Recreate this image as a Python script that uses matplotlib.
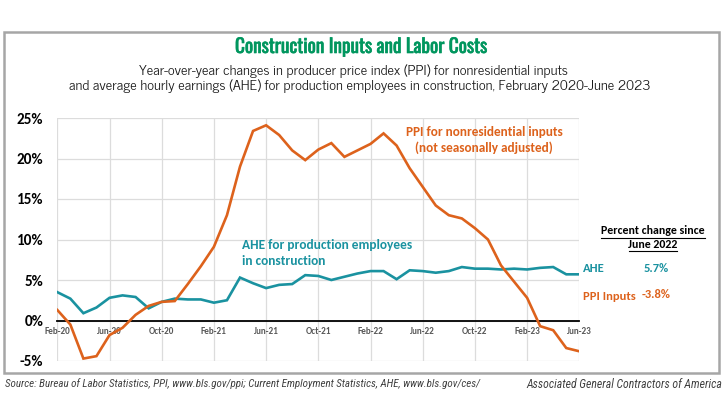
import matplotlib
matplotlib.use("Agg")
import matplotlib.pyplot as plt
from matplotlib import font_manager as fm
from matplotlib import patheffects as pe
from matplotlib.patches import Rectangle
import numpy as np

months = ['Feb-20', 'Mar-20', 'Apr-20', 'May-20', 'Jun-20', 'Jul-20', 'Aug-20', 'Sep-20',
          'Oct-20', 'Nov-20', 'Dec-20', 'Jan-21', 'Feb-21', 'Mar-21', 'Apr-21', 'May-21',
          'Jun-21', 'Jul-21', 'Aug-21', 'Sep-21', 'Oct-21', 'Nov-21', 'Dec-21', 'Jan-22',
          'Feb-22', 'Mar-22', 'Apr-22', 'May-22', 'Jun-22', 'Jul-22', 'Aug-22', 'Sep-22',
          'Oct-22', 'Nov-22', 'Dec-22', 'Jan-23', 'Feb-23', 'Mar-23', 'Apr-23', 'May-23',
          'Jun-23']

ppi = [1.3, -0.5, -4.7, -4.4, -1.8, -0.9, 0.7, 1.8, 2.3, 2.4, 4.5, 6.7, 9.1, 13.0,
       19.0, 23.4, 24.1, 22.9, 21.0, 19.8, 21.1, 21.9, 20.2, 21.0, 21.8, 23.1, 21.6,
       18.8, 16.5, 14.2, 13.0, 12.6, 11.4, 10.0, 6.8, 4.8, 2.8, -0.7, -1.2, -3.4, -3.8]

ahe = [3.5, 2.7, 0.9, 1.6, 2.8, 3.1, 2.9, 1.5, 2.3, 2.7, 2.6, 2.6, 2.2, 2.5, 5.3,
       4.6, 4.0, 4.4, 4.5, 5.6, 5.5, 5.0, 5.4, 5.8, 6.1, 6.1, 5.1, 6.2, 6.1, 5.9,
       6.1, 6.6, 6.4, 6.4, 6.3, 6.4, 6.3, 6.5, 6.6, 5.7, 5.7]

tick_labels = ['Feb-20', 'Jun-20', 'Oct-20', 'Feb-21', 'Jun-21', 'Oct-21', 'Feb-22',
               'Jun-22', 'Oct-22', 'Feb-23', 'Jun-23']
y_ticks = [-5, 0, 5, 10, 15, 20, 25]

ahe_change = "5.7%"
ppi_change = "-3.8%"

ORANGE = '#DD621C'
TEAL = '#1A92A0'
GREEN = '#00965E'

avail = {f.name for f in fm.fontManager.ttflist}


def pick(*names):
    for n in names:
        if n in avail:
            return [n, 'DejaVu Sans']
    return ['DejaVu Sans']


CHART_FONT = pick('Carlito', 'Lato', 'Open Sans')
TITLE_FONT = pick('Oswald', 'Barlow Condensed', 'Roboto Condensed', 'Liberation Sans')
SUB_FONT = pick('News Cycle', 'Roboto Condensed', 'Archivo Narrow', 'Liberation Sans')
FOOT_FONT = pick('Roboto Condensed', 'Archivo Narrow', 'Barlow Condensed', 'Liberation Sans')

W, H = 725, 400
fig = plt.figure(figsize=(W / 100, H / 100), dpi=100)
fig.patch.set_facecolor('white')
renderer = fig.canvas.get_renderer()


def fit(t, target_px):
    bb = t.get_window_extent(renderer)
    if bb.width > 0:
        t.set_fontsize(t.get_fontsize() * target_px / bb.width)
    return t


# outer frame
fig.add_artist(Rectangle((3.5 / W, 1 - 372.5 / H), (719 - 3.5) / W, (372.5 - 31.5) / H,
                         transform=fig.transFigure, fill=False, edgecolor='#a6a6a6', lw=1.8))

left, right, top, bottom = 57.3, 579.3, 118, 361
ax = fig.add_axes([left / W, 1 - bottom / H, (right - left) / W, (bottom - top) / H])

x = np.arange(len(months))
tick_pos = [months.index(t) for t in tick_labels]

ax.plot(x, ahe, color=TEAL, lw=1.9, solid_joinstyle='miter', zorder=3)
ax.plot(x, ppi, color=ORANGE, lw=1.9, solid_joinstyle='miter', zorder=4)

ax.set_xlim(0, len(months) - 1)
ax.set_ylim(-5, 25)
ax.set_xticks(tick_pos)
ax.set_xticklabels(tick_labels)
ax.set_yticks(y_ticks)
ax.set_yticklabels([f"{v}%" for v in y_ticks])
ax.grid(True, color='#dcdcdc', lw=0.9)
ax.set_axisbelow(True)
for s in ['top', 'right', 'left']:
    ax.spines[s].set_visible(False)
ax.spines['bottom'].set_position(('data', 0))
ax.spines['bottom'].set_color('black')
ax.spines['bottom'].set_linewidth(1.3)
ax.spines['bottom'].set_zorder(2)

ax.tick_params(axis='x', length=0, pad=5, labelsize=6.6, labelcolor='#595959')
ax.tick_params(axis='y', length=0, pad=10, labelsize=11, labelcolor='black')
for lab in ax.get_xticklabels():
    lab.set_fontweight('bold')
    lab.set_family(CHART_FONT)
for lab in ax.get_yticklabels():
    lab.set_fontweight('bold')
    lab.set_family(CHART_FONT)

# in-chart annotations
t = fig.text(484 / W, 1 - 132.5 / H, "PPI for nonresidential inputs", ha='center', va='center',
             color=ORANGE, fontsize=10, fontweight='bold', family=CHART_FONT)
fit(t, 158)
fig.text(484 / W, 1 - 147.5 / H, "(not seasonally adjusted)", ha='center', va='center',
         color=ORANGE, fontsize=t.get_fontsize(), fontweight='bold', family=CHART_FONT)

t = fig.text(242 / W, 1 - 245 / H, "AHE for production employees", ha='left', va='center',
             color=TEAL, fontsize=10, fontweight='bold', family=CHART_FONT)
fit(t, 170)
fig.text(242 / W, 1 - 261 / H, "in construction", ha='left', va='center',
         color=TEAL, fontsize=t.get_fontsize(), fontweight='bold', family=CHART_FONT)

# right side annotations
t = fig.text(653 / W, 1 - 231 / H, "Percent change since", ha='center', va='center',
             fontsize=9, fontweight='bold', family=CHART_FONT, color='black')
fit(t, 104)
fs_r = t.get_fontsize()
fig.text(653 / W, 1 - 244 / H, "June 2022", ha='center', va='center',
         fontsize=fs_r, fontweight='bold', family=CHART_FONT, color='black')
fig.add_artist(plt.Line2D([601 / W, 705 / W], [1 - 237.5 / H, 1 - 237.5 / H], color='black', lw=0.8))
fig.add_artist(plt.Line2D([629 / W, 677 / W], [1 - 250.5 / H, 1 - 250.5 / H], color='black', lw=0.8))

fig.text(583 / W, 1 - 269 / H, "AHE", ha='left', va='center', color=TEAL,
         fontsize=fs_r * 1.05, fontweight='bold', family=CHART_FONT)
fig.text(656 / W, 1 - 268 / H, ahe_change, ha='center', va='center', color=TEAL,
         fontsize=fs_r * 1.05, fontweight='bold', family=CHART_FONT)
fig.text(583 / W, 1 - 296 / H, "PPI Inputs", ha='left', va='center', color=ORANGE,
         fontsize=fs_r * 1.05, fontweight='bold', family=CHART_FONT)
fig.text(656 / W, 1 - 295 / H, ppi_change, ha='center', va='center', color=ORANGE,
         fontsize=fs_r * 1.05, fontweight='bold', family=CHART_FONT)

# titles
t = fig.text(361 / W, 1 - 47 / H, "Construction Inputs and Labor Costs", ha='center',
             va='center', color=GREEN, fontsize=17, fontweight='bold', family=TITLE_FONT)
fit(t, 252)
t.set_path_effects([pe.withStroke(linewidth=0.45, foreground=GREEN)])
t = fig.text(353 / W, 1 - 71 / H,
             "Year-over-year changes in producer price index (PPI) for nonresidential inputs",
             ha='center', va='center', color='#1a1a1a', fontsize=10, family=SUB_FONT)
fit(t, 428)
fig.text(360 / W, 1 - 86 / H,
         "and average hourly earnings (AHE) for production employees in construction, February 2020-June 2023",
         ha='center', va='center', color='#1a1a1a', fontsize=t.get_fontsize(), family=SUB_FONT)

# footer
t = fig.text(5 / W, 1 - 384 / H,
             "Source: Bureau of Labor Statistics, PPI, www.bls.gov/ppi; Current Employment Statistics, AHE, www.bls.gov/ces/",
             ha='left', va='center', color='#404040', fontsize=8, style='italic', family=FOOT_FONT)
fit(t, 476)
t = fig.text(722 / W, 1 - 384 / H, "Associated General Contractors of America",
             ha='right', va='center', color='#404040', fontsize=8, style='italic', family=FOOT_FONT)
fit(t, 194)

fig.savefig('out.png', dpi=100, facecolor='white')
